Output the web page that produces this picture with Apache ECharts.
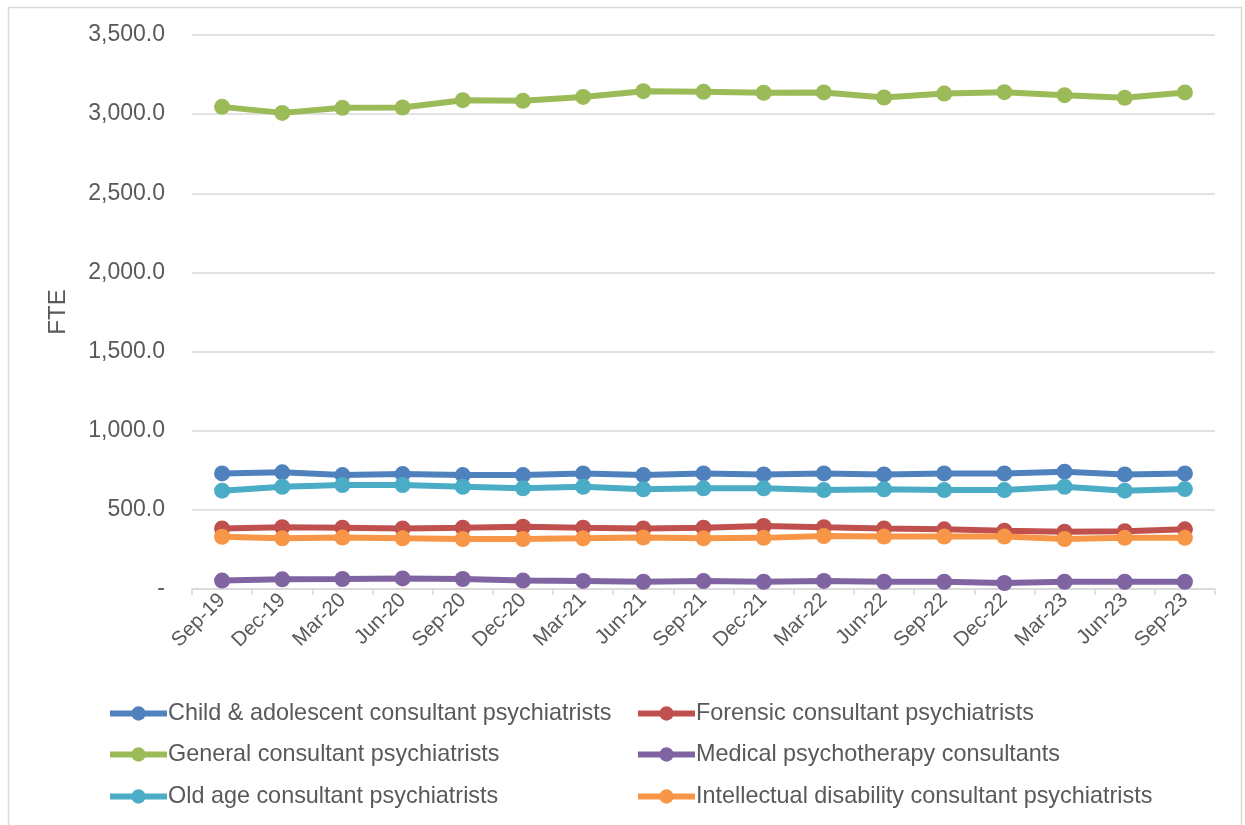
<!DOCTYPE html>
<html>
<head>
<meta charset="utf-8">
<script src="https://cdn.jsdelivr.net/npm/echarts@6/dist/echarts.min.js"></script>
<style>
  html, body { margin: 0; padding: 0; background: #ffffff; }
  #chart { width: 1245px; height: 825px; }
</style>
</head>
<body>
<div id="chart"></div>
<script>
// Quarterly consultant psychiatrist workforce (FTE), Sep-19 to Sep-23
const quarters = ['Sep-19', 'Dec-19', 'Mar-20', 'Jun-20', 'Sep-20', 'Dec-20', 'Mar-21', 'Jun-21',
  'Sep-21', 'Dec-21', 'Mar-22', 'Jun-22', 'Sep-22', 'Dec-22', 'Mar-23', 'Jun-23', 'Sep-23'];

const childAdolescent = [730, 737, 720, 726, 720, 720, 730, 720, 730, 724, 730, 724, 730, 730, 741, 724, 730];
const forensic = [383, 390, 387, 383, 387, 394, 387, 383, 387, 398, 390, 383, 377, 368, 362, 365, 377];
const general = [3046, 3008, 3040, 3042, 3088, 3084, 3109, 3145, 3141, 3135, 3137, 3105, 3130, 3139, 3120, 3103, 3137];
const medicalPsychotherapy = [53, 61, 63, 67, 63, 53, 51, 46, 50, 46, 51, 46, 46, 38, 46, 46, 46];
const oldAge = [621, 646, 657, 657, 646, 636, 646, 630, 636, 636, 625, 630, 625, 625, 646, 621, 631];
const intellectualDisability = [330, 320, 325, 320, 316, 316, 320, 325, 320, 323, 335, 331, 331, 331, 316, 323, 323];

const yTicks = [0, 500, 1000, 1500, 2000, 2500, 3000, 3500];

const seriesNames = [
  'Child & adolescent consultant psychiatrists',
  'Forensic consultant psychiatrists',
  'General consultant psychiatrists',
  'Medical psychotherapy consultants',
  'Old age consultant psychiatrists',
  'Intellectual disability consultant psychiatrists'
];
const seriesValues = [childAdolescent, forensic, general, medicalPsychotherapy, oldAge, intellectualDisability];
const seriesColors = ['#4f81bd', '#c0504d', '#9bbb59', '#8064a2', '#4bacc6', '#f79646'];

// legend grid: two columns, three rows (row centre lines)
const legendCols = [107, 635];
const legendRows = [713, 754, 796];

const FONT = 'Liberation Sans, Arial, sans-serif';
const TEXT = '#595959';
const LEGEND_ICON_H = 18;
const LEGEND_LINE_H = 22;

const chart = echarts.init(document.getElementById('chart'), null, { renderer: 'canvas' });

const fmt = v => v === 0 ? '-' : v.toLocaleString('en-US', { minimumFractionDigits: 1, maximumFractionDigits: 1 });

const legends = seriesNames.map((name, i) => ({
  data: [name],
  left: legendCols[i % 2],
  top: legendRows[Math.floor(i / 2)] - LEGEND_LINE_H / 2,
  padding: 0,
  itemWidth: 57,
  itemHeight: LEGEND_ICON_H,
  selectedMode: false,
  lineStyle: { width: 6 },
  itemStyle: { borderWidth: 0 },
  textStyle: { fontFamily: FONT, fontSize: 23.4, lineHeight: LEGEND_LINE_H, color: TEXT, padding: [0, 0, 0, -4] }
}));

chart.setOption({
  animation: false,
  backgroundColor: '#ffffff',
  graphic: [{
    type: 'rect',
    shape: { x: 8.5, y: 7.5, width: 1233, height: 830 },
    style: { fill: 'none', stroke: '#d9d9d9', lineWidth: 1.5 },
    silent: true
  }],
  legend: legends,
  grid: { left: 192, right: 30, top: 35, bottom: 236, containLabel: false },
  xAxis: {
    type: 'category',
    data: quarters,
    boundaryGap: true,
    axisLine: { lineStyle: { color: '#d9d9d9', width: 1.5 } },
    axisTick: { show: true, length: 6, lineStyle: { color: '#d9d9d9', width: 1.5 } },
    axisLabel: {
      rotate: 45, margin: 8, interval: 0,
      fontFamily: FONT, fontSize: 20.5, color: TEXT
    }
  },
  yAxis: {
    type: 'value',
    min: yTicks[0],
    max: yTicks[yTicks.length - 1],
    interval: yTicks[1] - yTicks[0],
    name: 'FTE',
    nameLocation: 'middle',
    nameGap: 122,
    nameTextStyle: { fontFamily: FONT, fontSize: 24, color: TEXT },
    axisLine: { show: false },
    axisTick: { show: false },
    splitLine: { lineStyle: { color: '#d9d9d9', width: 1.5 } },
    axisLabel: {
      margin: 27, formatter: fmt, padding: [3, 0, 0, 0],
      fontFamily: FONT, fontSize: 23, color: TEXT
    }
  },
  series: seriesNames.map((name, i) => ({
    name: name,
    type: 'line',
    data: seriesValues[i],
    symbol: 'circle',
    symbolSize: 16,
    color: seriesColors[i],
    lineStyle: { width: 6, color: seriesColors[i] },
    itemStyle: { color: seriesColors[i] }
  }))
});
</script>
</body>
</html>
